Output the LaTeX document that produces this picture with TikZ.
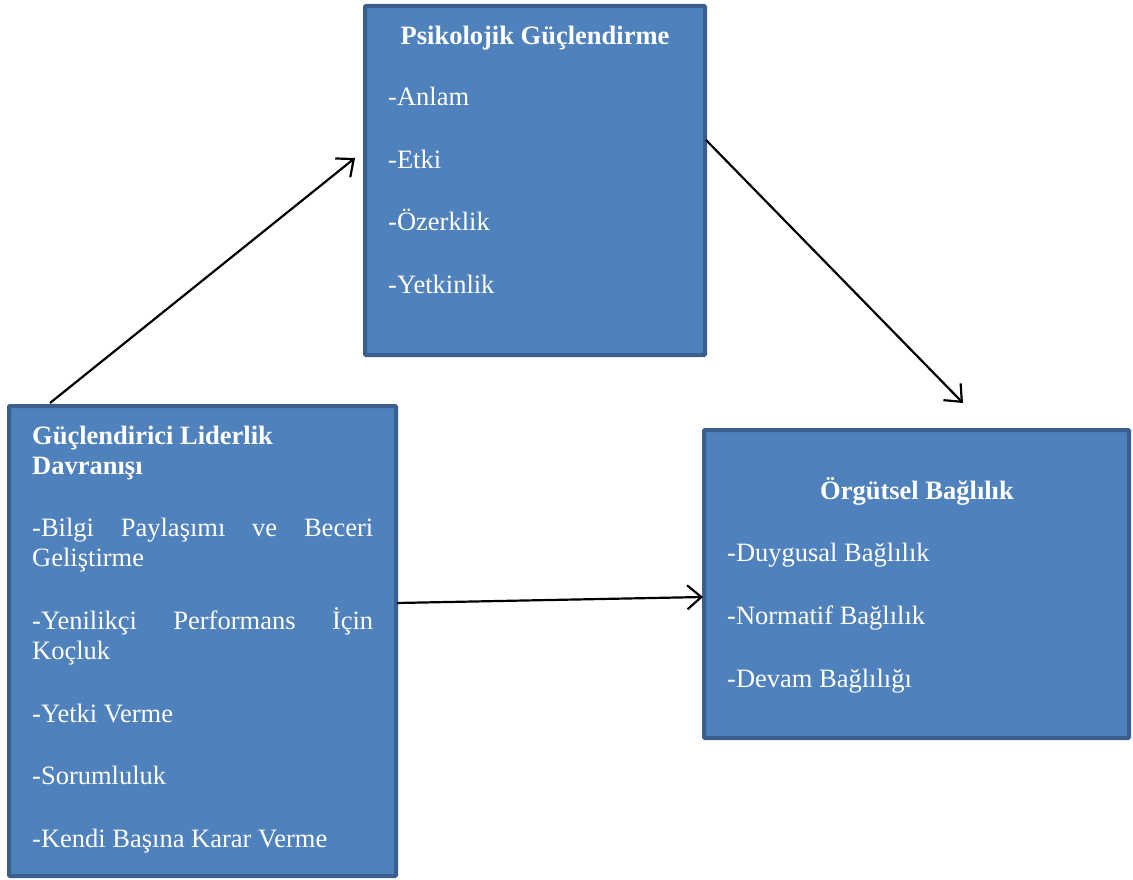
\documentclass[tikz,border=0pt]{standalone}
\usepackage{fontspec}
\setmainfont{Liberation Serif}
\usetikzlibrary{arrows.meta}
\definecolor{boxfill}{HTML}{4F81BD}
\definecolor{boxline}{HTML}{3A5F8E}
\begin{document}
\begin{tikzpicture}[x=1pt,y=-1pt,
  panel/.style={draw=boxline,fill=boxfill,line width=4pt,rounded corners=1pt},
  txt/.style={anchor=base west,inner sep=0pt,text=white,font=\fontsize{26.5}{30}\selectfont},
  ttl/.style={anchor=base,inner sep=0pt,text=white,font=\fontsize{26.5}{30}\selectfont\bfseries},
  link/.style={line width=2.2pt,-{Straight Barb[length=14pt,width=24pt,line width=2.2pt]}}]
\useasboundingbox (0,0) rectangle (1133,880);

% boxes
\draw[panel] (365,6) rectangle (705,355);
\draw[panel] (9,406) rectangle (396,876);
\draw[panel] (704,430) rectangle (1129,738);

% Psikolojik Güçlendirme
\node[ttl] (pgt) at (535,45) {Psikolojik Güçlendirme};
\node[txt] (pg1) at (388,106) {-Anlam};
\node[txt] (pg2) at (388,168) {-Etki};
\node[txt] (pg3) at (388,230) {-Özerklik};
\node[txt] (pg4) at (388,293) {-Yetkinlik};

% Güçlendirici Liderlik Davranışı
\node[txt,font=\fontsize{26.5}{30}\selectfont\bfseries] (lbt1) at (32,444) {Güçlendirici Liderlik};
\node[txt,font=\fontsize{26.5}{30}\selectfont\bfseries] (lbt2) at (32,474) {Davranışı};
\node[txt] (lb1) at (32,536) {\hbox to 341pt{-Bilgi\hfill Paylaşımı\hfill ve\hfill Beceri}};
\node[txt] (lb1b) at (32,566) {Geliştirme};
\node[txt] (lb2) at (32,629) {\hbox to 341pt{-Yenilikçi\hfill Performans\hfill İçin}};
\node[txt] (lb2b) at (32,659) {Koçluk};
\node[txt] (lb3) at (32,722) {-Yetki Verme};
\node[txt] (lb4) at (32,784) {-Sorumluluk};
\node[txt] (lb5) at (32,847) {-Kendi Başına Karar Verme};

% Örgütsel Bağlılık
\node[ttl] (obt) at (917,499) {Örgütsel Bağlılık};
\node[txt] (ob1) at (727,561) {-Duygusal Bağlılık};
\node[txt] (ob2) at (727,624) {-Normatif Bağlılık};
\node[txt] (ob3) at (727,687) {-Devam Bağlılığı};

% connector ends
\coordinate (lbtop) at (50,403);
\coordinate (pgin) at (355,158);
\coordinate (pgout) at (706,140);
\coordinate (obin) at (963,403);
\coordinate (lbright) at (397,603);
\coordinate (obleft) at (703,597);

\draw[link] (lbtop) -- (pgin);
\draw[link] (pgout) -- (obin);
\draw[link] (lbright) -- (obleft);
\end{tikzpicture}
\end{document}
